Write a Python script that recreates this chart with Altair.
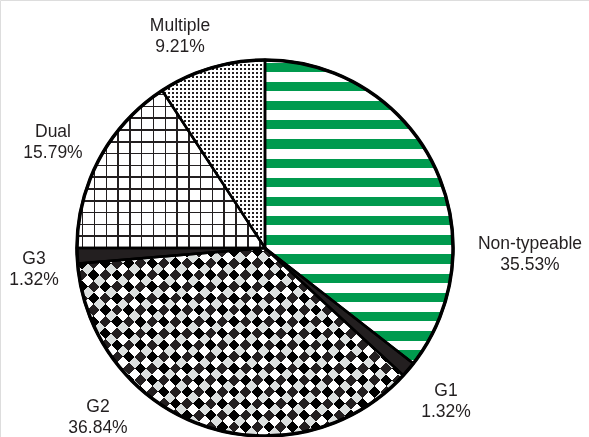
import math
import altair as alt
import pandas as pd

# ---- data ----
categories = ["Non-typeable", "G1", "G2", "G3", "Dual", "Multiple"]
percents = [35.53, 1.32, 36.84, 1.32, 15.79, 9.21]

df = pd.DataFrame({"category": categories, "pct": percents, "order": list(range(len(categories)))})
total = sum(percents)

# ---- layout / style ----
CX, CY, R = 265, 248, 188
FONT = "Liberation Sans"
INK = "#231f20"
GREEN = "#009a4e"
CLEAR = "rgba(255,255,255,0)"

LABEL_XY = {
    "Non-typeable": (530, 249),
    "G1": (446, 396),
    "G2": (98, 412),
    "G3": (34, 264),
    "Dual": (53, 137),
    "Multiple": (180, 31),
}

# slice angles (degrees, clockwise from top) -> bounding boxes for gradient patterns
angles = {}
acc = 0.0
for c, p in zip(categories, percents):
    a0 = acc / total * 360
    acc += p
    a1 = acc / total * 360
    angles[c] = (a0, a1)


def sector_bbox(a0, a1):
    pts = [(CX, CY)]
    cand = [a0, a1] + [k * 90 for k in range(5) if a0 < k * 90 < a1]
    for a in cand:
        t = math.radians(a)
        pts.append((CX + R * math.sin(t), CY - R * math.cos(t)))
    xs = [p[0] for p in pts]
    ys = [p[1] for p in pts]
    return min(xs), min(ys), max(xs) - min(xs), max(ys) - min(ys)


def band_stops(umin, umax, period, phase, on_len, on_color, off_color):
    span = umax - umin

    def is_on(u):
        return ((u - phase) % period) < on_len

    k0 = math.floor((umin - phase) / period) - 1
    k1 = math.ceil((umax - phase) / period) + 1
    edges = []
    for k in range(k0, k1 + 1):
        s = phase + k * period
        for b in (s, s + on_len):
            if umin < b < umax:
                edges.append(b)
    edges.sort()
    state = is_on(umin)
    stops = [(0.0, state)]
    for b in edges:
        t = (b - umin) / span
        stops.append((t, state))
        state = not state
        stops.append((t, state))
    stops.append((1.0, state))
    return [alt.GradientStop(offset=round(t, 6), color=(on_color if s else off_color)) for t, s in stops]


def grad(cat, kind, period, phase, on_len, on_color, off_color):
    bx, by, w, h = sector_bbox(*angles[cat])
    if kind == "h":  # stripes varying along y
        g = dict(x1=0, y1=0, x2=0, y2=1)
        umin, umax = by, by + h
    elif kind == "v":  # stripes varying along x
        g = dict(x1=0, y1=0, x2=1, y2=0)
        umin, umax = bx, bx + w
    elif kind == "d1":  # along x+y
        a = (w + h) / (w * w + h * h)
        g = dict(x1=0, y1=0, x2=a * w, y2=a * h)
        umin, umax = bx + by, bx + by + w + h
    else:  # along x-y
        a = (w + h) / (w * w + h * h)
        g = dict(x1=0, y1=1, x2=a * w, y2=1 - a * h)
        umin, umax = bx - by - h, bx + w - by
    return alt.LinearGradient(
        gradient="linear",
        stops=band_stops(umin, umax, period, phase, on_len, on_color, off_color),
        **g,
    )


base = alt.Chart(df).transform_stack(
    stack="pct", as_=["v0", "v1"], groupby=[], sort=[alt.SortField("order", order="ascending")]
)
theta_scale = alt.Scale(domain=[0, total])


def arc_layer(cat, **mk):
    return (
        base.transform_filter(alt.datum.category == cat)
        .mark_arc(radius=R, **mk)
        .encode(
            theta=alt.Theta("v0:Q", scale=theta_scale),
            theta2="v1:Q",
            x=alt.value(CX),
            y=alt.value(CY),
        )
    )


layers = [
    # Non-typeable: green horizontal stripes
    arc_layer("Non-typeable", fill=grad("Non-typeable", "h", 19.2, 81.7, 9.3, GREEN, "white")),
    # G1: dark
    arc_layer("G1", fill=INK),
    # G2: diamond checker (XOR of two diagonal band sets)
    arc_layer("G2", fill=grad("G2", "d1", 23.4, 0.0, 11.7, INK, "white")),
    arc_layer("G2", fill=grad("G2", "d2", 23.4, 0.0, 11.7, "white", CLEAR), blend="difference"),
    # G3: solid
    arc_layer("G3", fill=INK),
    # Dual: square grid
    arc_layer("Dual", fill=grad("Dual", "v", 11.8, 81.9, 1.6, INK, "white")),
    arc_layer("Dual", fill=grad("Dual", "h", 11.8, 247.2, 1.6, INK, CLEAR)),
    # Multiple: fine dots
    arc_layer("Multiple", fill=grad("Multiple", "v", 4.0, 0.0, 2.4, INK, "white")),
    arc_layer("Multiple", fill=grad("Multiple", "h", 4.0, 0.0, 2.4, CLEAR, "white")),
]

# slice outlines
outline = base.mark_arc(radius=R, fill="white", fillOpacity=0, stroke="black", strokeWidth=2.5).encode(
    theta=alt.Theta("v0:Q", scale=theta_scale),
    theta2="v1:Q",
    x=alt.value(CX),
    y=alt.value(CY),
)
rim = (
    alt.Chart(df)
    .transform_aggregate(total="sum(pct)")
    .mark_arc(radius=R, fill="white", fillOpacity=0, stroke="black", strokeWidth=3.5)
    .encode(theta=alt.Theta("total:Q", scale=theta_scale), x=alt.value(CX), y=alt.value(CY))
)
layers += [outline, rim]

# labels
for cat in categories:
    lx, ly = LABEL_XY[cat]
    layers.append(
        alt.Chart(df)
        .transform_filter(alt.datum.category == cat)
        .transform_calculate(label="datum.category + '\\n' + format(datum.pct, '.2f') + '%'")
        .mark_text(
            font=FONT, fontSize=17.5, color=INK, align="center", baseline="alphabetic",
            lineBreak="\n", lineHeight=21,
        )
        .encode(text="label:N", x=alt.value(lx), y=alt.value(ly))
    )

chart = (
    alt.layer(*layers)
    .properties(width=589, height=437, autosize=alt.AutoSizeParams(type="none"), padding=0)
    .configure_view(stroke=None)
    .configure(background="white")
)

chart.save("out.html", embed_options={"renderer": "svg", "actions": False})
